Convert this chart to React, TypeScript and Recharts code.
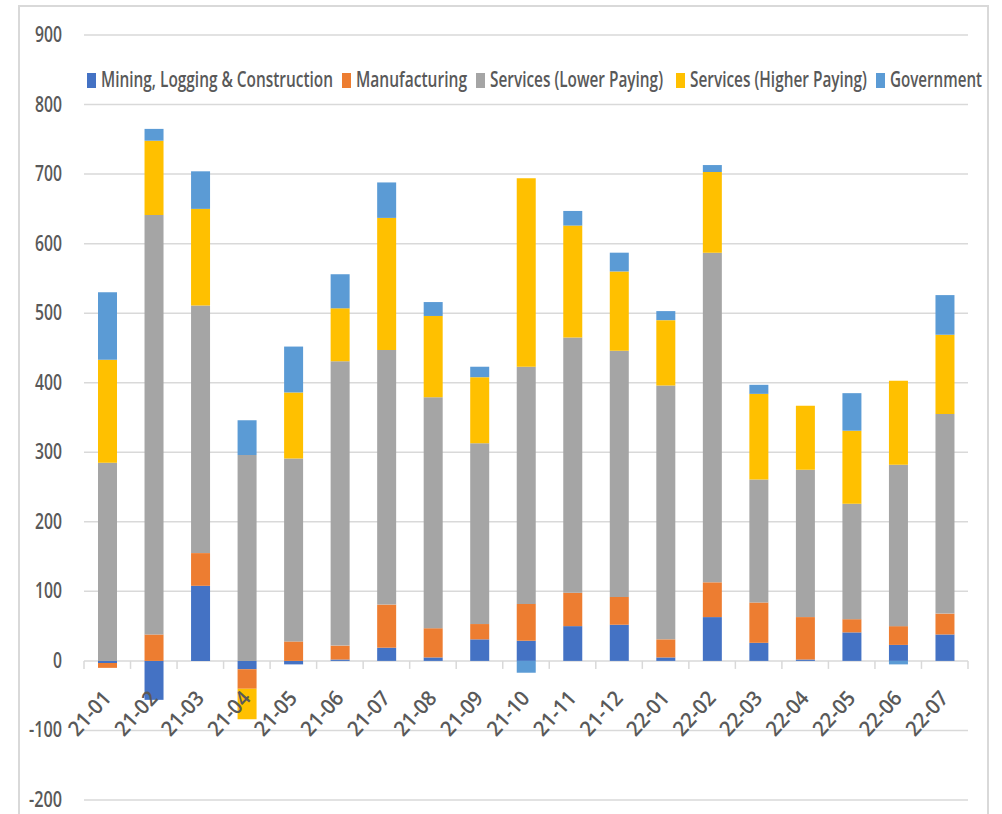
import React from 'react';
import { BarChart, Bar, XAxis, YAxis, CartesianGrid, Legend } from 'recharts';

// ---- Data (thousands of jobs, monthly change) ----
const months = ['21-01', '21-02', '21-03', '21-04', '21-05', '21-06', '21-07', '21-08', '21-09', '21-10', '21-11', '21-12', '22-01', '22-02', '22-03', '22-04', '22-05', '22-06', '22-07'];
const mining = [-3, -56, 108, -12, -5, 2, 19, 5, 31, 29, 50, 52, 5, 63, 26, 2, 41, 23, 38];
const manufacturing = [-7, 38, 47, -28, 28, 20, 62, 42, 22, 53, 48, 40, 26, 50, 58, 61, 19, 27, 30];
const lowerServices = [285, 603, 356, 296, 263, 409, 366, 332, 260, 341, 367, 354, 365, 474, 177, 212, 166, 232, 287];
const higherServices = [148, 107, 139, -44, 95, 76, 190, 117, 95, 271, 161, 114, 94, 116, 123, 92, 105, 121, 114];
const government = [97, 17, 54, 50, 66, 49, 51, 20, 15, -17, 21, 27, 13, 10, 13, 0, 54, -5, 57];
const yTicks = [-200, -100, 0, 100, 200, 300, 400, 500, 600, 700, 800, 900];

const seriesNames = ['Mining, Logging & Construction', 'Manufacturing', 'Services (Lower Paying)', 'Services (Higher Paying)', 'Government'];
const seriesKeys = ['mining', 'manufacturing', 'lower', 'higher', 'government'];
const seriesColors = ['#4472C4', '#ED7D31', '#A5A5A5', '#FFC000', '#5B9BD5'];

const data = months.map((m, i) => ({
  month: m,
  mining: mining[i],
  manufacturing: manufacturing[i],
  lower: lowerServices[i],
  higher: higherServices[i],
  government: government[i],
}));

// ---- Layout ----
const W = 1002;
const H = 814;
const PLOT_LEFT = 84;
const PLOT_RIGHT = 968;
const PLOT_TOP = 35;
const PLOT_BOTTOM = 800;
const PLOT_H = PLOT_BOTTOM - PLOT_TOP;
const Y_MIN = -200;
const Y_MAX = 900;
const ZERO_Y = PLOT_BOTTOM - (PLOT_H * (0 - Y_MIN)) / (Y_MAX - Y_MIN);
const BAND = (PLOT_RIGHT - PLOT_LEFT) / months.length;
const TEXT = '#595959';
const GRID = '#d9d9d9';
const FONT = "'Open Sans', 'Liberation Sans', sans-serif";
const LABEL_ANGLE = -48;
const LABEL_LEN = 52;

// legend layout measured from reference (left x of square, text width)
const LEGEND_X = [87, 342, 476, 676, 876];
const LEGEND_TW = [232, 111, 173, 177, 92];

const YTick = (props: any) => {
  const { x, y, payload } = props;
  const s = String(payload.value);
  const neg = s.startsWith('-');
  const w = (s.length - (neg ? 1 : 0)) * 9 + (neg ? 6 : 0);
  return (
    <text x={x} y={y + 7} textAnchor="end" fill={TEXT} fontFamily={FONT} fontWeight={600} fontSize={21}
      textLength={w} lengthAdjust="spacingAndGlyphs">
      {s}
    </text>
  );
};

const XTick = (props: any) => {
  const { x, payload, index } = props;
  const y0 = ZERO_Y;
  const ax = x + 5;
  const ay = y0 + 38;
  return (
    <g>
      <line x1={x - BAND / 2} x2={x - BAND / 2} y1={y0} y2={y0 + 8} stroke={GRID} strokeWidth={1.5} />
      {index === months.length - 1 && (
        <line x1={x + BAND / 2} x2={x + BAND / 2} y1={y0} y2={y0 + 8} stroke={GRID} strokeWidth={1.5} />
      )}
      <g transform={`translate(${ax}, ${ay}) rotate(${LABEL_ANGLE})`}>
        <text x={0} y={0} textAnchor="end" fill={TEXT}
          fontFamily={FONT} fontWeight={600} fontSize={21} textLength={LABEL_LEN} lengthAdjust="spacingAndGlyphs">
          {payload.value}
        </text>
      </g>
    </g>
  );
};

const LegendContent = (props: any) => {
  const payload = [...(props.payload || [])].sort(
    (a: any, b: any) => seriesNames.indexOf(a.value) - seriesNames.indexOf(b.value)
  );
  return (
    <svg width={W} height={34} style={{ display: 'block' }}>
      {payload.map((p: any) => {
        const i = seriesNames.indexOf(p.value);
        return (
          <g key={p.value}>
            <rect x={LEGEND_X[i]} y={9} width={9} height={15} fill={p.color} />
            <text x={LEGEND_X[i] + 14} y={23} fill={TEXT} fontFamily={FONT} fontWeight={600} fontSize={21}
              textLength={LEGEND_TW[i]} lengthAdjust="spacingAndGlyphs">
              {p.value}
            </text>
          </g>
        );
      })}
    </svg>
  );
};

export default function App() {
  return (
    <div style={{ position: 'absolute', left: 0, top: 0, width: W, height: H, overflow: 'hidden', background: '#fff' }}>
      <div style={{ position: 'absolute', left: 18, top: 5, width: 971, height: 900, border: `2px solid ${GRID}`, boxSizing: 'border-box' }} />
      <div style={{ position: 'absolute', left: 0, top: 0 }}>
        <BarChart width={W} height={H} data={data} stackOffset="sign" barSize={19}
          margin={{ top: PLOT_TOP, right: W - PLOT_RIGHT, bottom: H - PLOT_BOTTOM - 1, left: 0 }}>
          <CartesianGrid vertical={false} stroke={GRID} strokeWidth={1.5} />
          <XAxis dataKey="month" height={1} axisLine={false} tickLine={false} tickSize={0} tickMargin={0}
            interval={0} tick={<XTick />} />
          <YAxis width={PLOT_LEFT} domain={[Y_MIN, Y_MAX]} ticks={yTicks} axisLine={false} tickLine={false}
            tickSize={0} tickMargin={22} interval={0} tick={<YTick />} allowDataOverflow />
          <Legend layout="horizontal" verticalAlign="middle" align="center" content={<LegendContent />}
            wrapperStyle={{ top: 64, left: 0, width: W, height: 34 }} />
          {seriesKeys.map((k, i) => (
            <Bar key={k} dataKey={k} name={seriesNames[i]} stackId="a" fill={seriesColors[i]} isAnimationActive={false} />
          ))}
        </BarChart>
      </div>
    </div>
  );
}
